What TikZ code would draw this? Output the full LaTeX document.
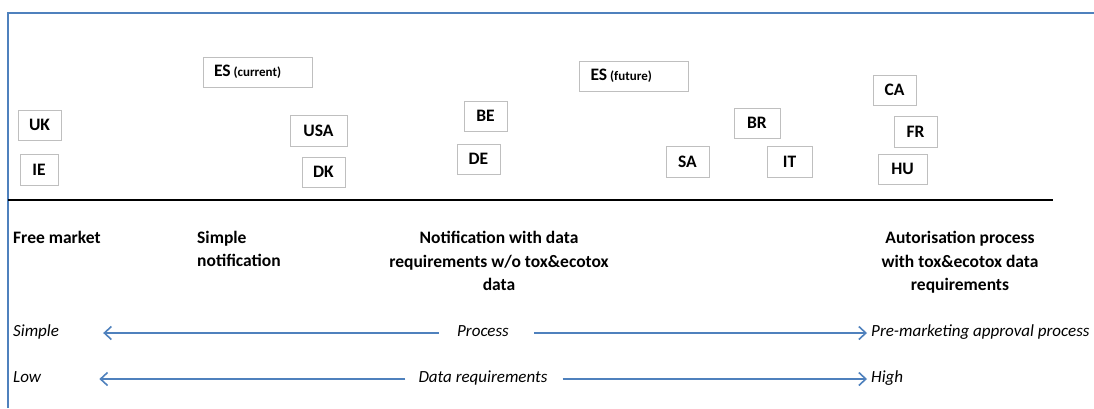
\documentclass[tikz,border=0pt]{standalone}
\usepackage{fontspec}
\setmainfont{Carlito}
\usepackage{xcolor}
\usetikzlibrary{arrows.meta, positioning}
\definecolor{frameblue}{HTML}{4F81BD}
\definecolor{boxgray}{HTML}{BFBFBF}

\begin{document}
\begin{tikzpicture}[
  x=1pt, y=-1pt,
  country/.style={draw=boxgray, line width=1pt, inner sep=0pt, font=\fontsize{17.5}{19}\selectfont\bfseries},
  widecountry/.style={country, inner xsep=11pt, text width=87pt, align=left},
  heading/.style={inner sep=0pt, font=\fontsize{17.5}{23.5}\selectfont\bfseries},
  axislabel/.style={inner sep=0pt, text height=11.5pt, text depth=4pt, font=\fontsize{17}{19}\selectfont\itshape},
  axis/.style={draw=frameblue, line width=1.8pt, -{Straight Barb[length=7pt, width=13pt, line width=1.6pt]}}
]
\useasboundingbox (0,0) rectangle (1094,408);
\draw[frameblue, line width=2pt] (8,408) -- (8,13) -- (1094,13);

\node[widecountry, minimum height=30] (EScur) at (257.5,72) {ES\kern3pt{\fontsize{13}{14}\selectfont(current)}};
\node[country, minimum width=43, minimum height=30] (UK) at (39.5,125) {UK};
\node[country, minimum width=38, minimum height=31] (IE) at (39,169.5) {IE};
\node[country, minimum width=57, minimum height=31] (USA) at (318.5,130.5) {USA};
\node[country, minimum width=43, minimum height=30] (DK) at (323.5,172) {DK};
\node[country, minimum width=43, minimum height=30] (BE) at (485.5,116) {BE};
\node[country, minimum width=43, minimum height=30] (DE) at (478.5,159) {DE};
\node[widecountry, minimum height=30] (ESfut) at (634,76) {ES\kern3pt{\fontsize{13}{14}\selectfont(future)}};
\node[country, minimum width=43, minimum height=31] (SA) at (687.5,161.5) {SA};
\node[country, minimum width=46, minimum height=30] (BR) at (757,123) {BR};
\node[country, minimum width=45, minimum height=31] (IT) at (789.5,161.5) {IT};
\node[country, minimum width=43, minimum height=30] (CA) at (894.5,90) {CA};
\node[country, minimum width=43, minimum height=31] (FR) at (915.5,131.5) {FR};
\node[country, minimum width=49, minimum height=30] (HU) at (902.5,169) {HU};

\draw[line width=2.5pt] (8,200) -- (1053,200);

\node[heading, anchor=north west] (free) at (13,231) {Free market};
\node[heading, anchor=north west, align=left] (simplenot) at (197,231) {Simple\\notification};
\node[heading, anchor=north, align=center] (notif) at (499,231) {Notification with data\\requirements w/o tox\&ecotox\\data};
\node[heading, anchor=north, align=center] (autor) at (960,231) {Autorisation process\\with tox\&ecotox data\\requirements};

\node[axislabel, anchor=west] (simple) at (13,333) {Simple};
\node[axislabel] (process) at (483,333) {Process};
\node[axislabel, anchor=west] (premkt) at (871,333) {Pre-marketing approval process};
\node[axislabel, anchor=west] (low) at (13,379) {Low};
\node[axislabel] (datareq) at (483,379) {Data requirements};
\node[axislabel, anchor=west] (high) at (871,379) {High};

\draw[axis, shorten <=18pt, shorten >=44pt] (process.west) -- (simple.east);
\draw[axis, shorten <=25pt, shorten >=4pt] (process.east) -- (premkt.west);
\draw[axis, shorten <=13pt, shorten >=58pt] (datareq.west) -- (low.east);
\draw[axis, shorten <=15pt, shorten >=4pt] (datareq.east) -- (high.west);
\end{tikzpicture}
\end{document}
